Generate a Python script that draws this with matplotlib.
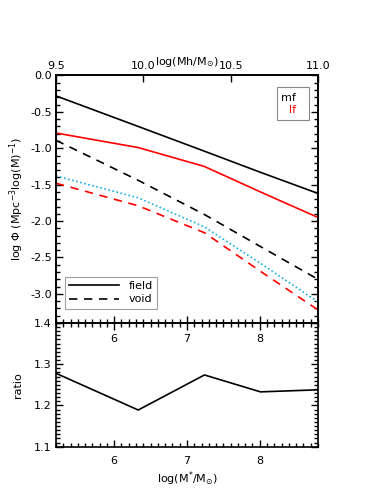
import numpy as np
import matplotlib
matplotlib.use("Agg")
import matplotlib.pyplot as plt
from matplotlib.patches import Rectangle
from matplotlib.ticker import MultipleLocator, FormatStrFormatter

# knots in log(M*/Msun)
logm = [5.2, 6.33, 7.24, 8.01, 8.8]

# mass function (black) and luminosity function (red), field vs void
mf_field = [-0.28, -0.70, -1.04, -1.33, -1.62]
mf_void = [-0.89, -1.44, -1.91, -2.35, -2.80]
lf_field = [-0.79, -0.99, -1.25, -1.60, -1.95]
lf_void = [-1.48, -1.79, -2.16, -2.69, -3.22]
cyan_dotted = [-1.38, -1.68, -2.08, -2.58, -3.11]

# ratio panel
ratio = [1.278, 1.189, 1.274, 1.233, 1.238]

top_ticks = [9.5, 10.0, 10.5, 11.0]

plt.rcParams['font.family'] = ['DejaVu Sans']
plt.rcParams['font.size'] = 8

fig = plt.figure(figsize=(3.74, 4.98), dpi=100)
ax_r = fig.add_axes([0.1497, 0.103, 0.7005, 0.2484])
ax = fig.add_axes([0.1497, 0.3514, 0.7005, 0.4970])

lw = 1.2
ax.plot(logm, mf_field, color='black', lw=lw, label='field')
ax.plot(logm, mf_void, color='black', lw=lw, ls=(0, (5, 4)), label='void')
ax.plot(logm, lf_field, color='red', lw=lw)
ax.plot(logm, lf_void, color='red', lw=lw, ls=(0, (5, 4)))
ax.plot(logm, cyan_dotted, color='#18aee0', lw=lw, ls=(0, (1, 1.5)))

ax.set_xlim(5.2, 8.8)
ax.set_ylim(-3.4, 0.0)
ax.yaxis.set_major_locator(MultipleLocator(0.5))
ax.yaxis.set_minor_locator(MultipleLocator(0.1))
ax.yaxis.set_major_formatter(FormatStrFormatter('%.1f'))
ax.xaxis.set_major_locator(MultipleLocator(1))
ax.xaxis.set_minor_locator(MultipleLocator(0.1))
ax.tick_params(which='both', direction='in', right=True, top=False)
ax.tick_params(which='major', length=5, width=1)
ax.tick_params(which='minor', length=3, width=1)
ax.tick_params(axis='x', pad=8)
ax.tick_params(axis='y', pad=3)
ax.set_ylabel(r'log $\Phi$ (Mpc$^{-3}$log(M)$^{-1}$)', labelpad=3)

# top axis in halo mass
ax_top = ax.twiny()
ax_top.set_xlim(9.5, 11.0)
ax_top.set_xticks(top_ticks)
ax_top.xaxis.set_major_formatter(FormatStrFormatter('%.1f'))
ax_top.tick_params(direction='in', length=5, width=1, pad=3)
fig.text(0.5, 0.8755, r'log(Mh/M$_{\odot}$)', ha='center', va='center')

leg = ax.legend(loc='lower left', bbox_to_anchor=(0.034, 0.057),
                borderaxespad=0, handlelength=4.5, frameon=True,
                fancybox=False, edgecolor='#888888', fontsize=8,
                borderpad=0.4, labelspacing=0.3)
leg.get_frame().set_linewidth(0.8)

ax.add_patch(Rectangle((0.8435, 0.82), 0.122, 0.1335, transform=ax.transAxes,
                       fill=False, edgecolor='#888888', lw=0.8))
ax.text(0.916, 0.909, 'mf', color='black', ha='right', va='center',
        transform=ax.transAxes)
ax.text(0.916, 0.861, 'lf', color='red', ha='right', va='center',
        transform=ax.transAxes)

# ratio panel
ax_r.plot(logm, ratio, color='black', lw=lw)
ax_r.set_xlim(5.2, 8.8)
ax_r.set_ylim(1.1, 1.4)
ax_r.yaxis.set_major_locator(MultipleLocator(0.1))
ax_r.yaxis.set_minor_locator(MultipleLocator(0.01))
ax_r.yaxis.set_major_formatter(FormatStrFormatter('%.1f'))
ax_r.xaxis.set_major_locator(MultipleLocator(1))
ax_r.xaxis.set_minor_locator(MultipleLocator(0.1))
ax_r.tick_params(which='both', direction='in', right=True, top=True)
ax_r.tick_params(which='major', length=5, width=1)
ax_r.tick_params(which='minor', length=3, width=1)
ax_r.tick_params(axis='x', pad=7)
ax_r.tick_params(axis='y', pad=3)
ax_r.set_ylabel('ratio', labelpad=8)
ax_r.set_xlabel(r'log(M$^{*}$/M$_{\odot}$)', labelpad=2)

for a in (ax, ax_r, ax_top):
    for s in a.spines.values():
        s.set_linewidth(1.2)

fig.savefig('out.png', dpi=100)
plt.close(fig)
